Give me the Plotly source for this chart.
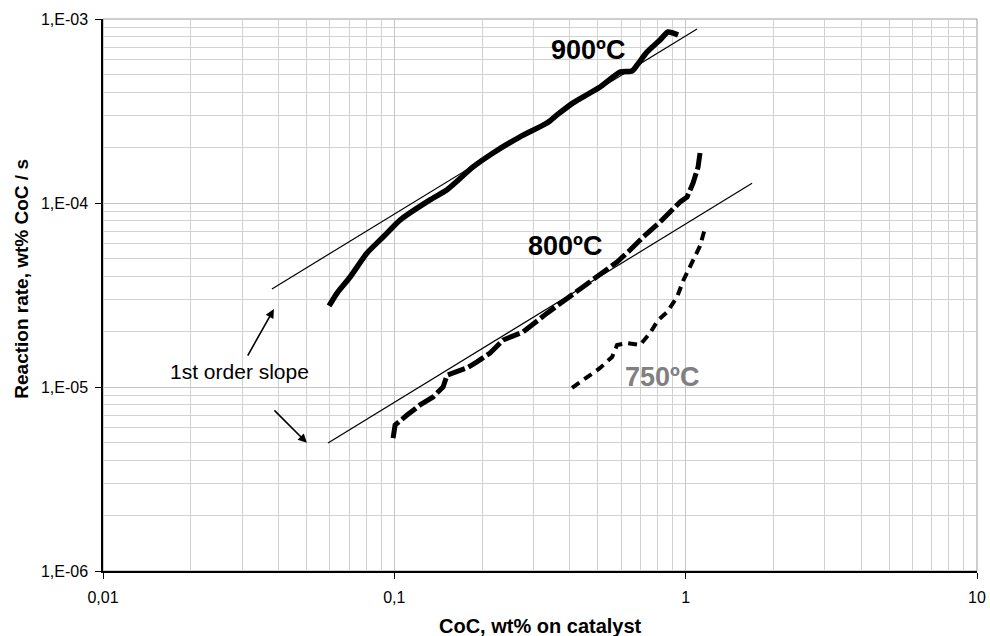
import math
import plotly.graph_objects as go

# ---- data ----
x900 = [0.0597, 0.0636, 0.0705, 0.0806, 0.0915, 0.1046, 0.1326, 0.1517, 0.1863, 0.2182,
        0.2701, 0.3343, 0.3618, 0.4107, 0.5084, 0.5953, 0.6546, 0.6812, 0.7373, 0.8167,
        0.8703, 0.9417]
y900 = [2.76e-5, 3.24e-5, 3.96e-5, 5.35e-5, 6.53e-5, 8.08e-5, 1.04e-4, 1.18e-4, 1.57e-4, 1.87e-4,
        2.29e-4, 2.72e-4, 3.01e-4, 3.50e-4, 4.27e-4, 5.15e-4, 5.22e-4, 5.62e-4, 6.62e-4, 7.69e-4,
        8.50e-4, 8.19e-4]

x800 = [0.0990, 0.1006, 0.1106, 0.1226, 0.1359, 0.1470, 0.1517, 0.1776, 0.1922, 0.2131,
        0.2361, 0.2766, 0.3343, 0.3948, 0.4810, 0.5813, 0.6443, 0.7141, 0.8167, 0.9568,
        1.011, 1.060, 1.103, 1.120]
y800 = [5.28e-6, 6.21e-6, 7.04e-6, 7.99e-6, 8.83e-6, 1.00e-5, 1.16e-5, 1.27e-5, 1.37e-5, 1.53e-5,
        1.80e-5, 1.99e-5, 2.52e-5, 3.05e-5, 3.82e-5, 4.78e-5, 5.55e-5, 6.53e-5, 7.88e-5, 1.013e-4,
        1.078e-4, 1.284e-4, 1.569e-4, 1.869e-4]

x750 = [0.4074, 0.4445, 0.5084, 0.5590, 0.5813, 0.6291, 0.6974, 0.7549, 0.8044, 0.8636,
        0.9343, 0.9797, 1.060, 1.120, 1.166]
y750 = [9.88e-6, 1.091e-5, 1.269e-5, 1.455e-5, 1.692e-5, 1.734e-5, 1.692e-5, 1.965e-5, 2.312e-5, 2.556e-5,
        3.084e-5, 3.768e-5, 4.90e-5, 5.84e-5, 7.31e-5]

fit_hi_x = [0.038, 1.094]
fit_hi_y = [3.41e-5, 8.83e-4]
fit_lo_x = [0.0592, 1.69]
fit_lo_y = [4.96e-6, 1.28e-4]

xtick_vals = [0.01, 0.1, 1, 10]
xtick_text = ["0,01", "0,1", "1", "10"]
ytick_vals = [1e-6, 1e-5, 1e-4, 1e-3]
ytick_text = ["1,E-06", "1,E-05", "1,E-04", "1,E-03"]

FONT = "Arial, 'Liberation Sans', sans-serif"
GRID = "#c4c4c4"
MINOR = "#d2d2d2"

fig = go.Figure()
fig.add_trace(go.Scatter(x=fit_hi_x, y=fit_hi_y, mode="lines",
                         line=dict(color="black", width=1.2), showlegend=False))
fig.add_trace(go.Scatter(x=fit_lo_x, y=fit_lo_y, mode="lines",
                         line=dict(color="black", width=1.2), showlegend=False))
fig.add_trace(go.Scatter(x=x900, y=y900, mode="lines",
                         line=dict(color="black", width=5.5, shape="spline", smoothing=0.6),
                         showlegend=False))
fig.add_trace(go.Scatter(x=x800, y=y800, mode="lines",
                         line=dict(color="black", width=5, dash="18px,4px"), showlegend=False))
fig.add_trace(go.Scatter(x=x750, y=y750, mode="lines",
                         line=dict(color="black", width=4, dash="9px,6px"), showlegend=False))

L = math.log10
annos = [
    dict(x=L(0.4626), y=-3.168, text="<b>900ºC</b>", font=dict(size=27, color="black")),
    dict(x=L(0.3855), y=-4.234, text="<b>800ºC</b>", font=dict(size=27, color="black")),
    dict(x=L(0.8299), y=-4.946, text="<b>750ºC</b>", font=dict(size=27, color="#808080")),
    dict(x=-1.533, y=-4.918, text="1st order slope", font=dict(size=21, color="black")),
]
for a in annos:
    a["font"]["family"] = FONT
    fig.add_annotation(xref="x", yref="y", showarrow=False, xanchor="center", yanchor="middle", **a)

# arrows
fig.add_annotation(xref="x", yref="y", x=L(0.0386), y=L(2.65e-5), ax=-27, ay=48, text="",
                   showarrow=True, arrowhead=2, arrowsize=1.1, arrowwidth=1.6, arrowcolor="black")
fig.add_annotation(xref="x", yref="y", x=L(0.0501), y=L(4.97e-6), ax=-34, ay=-34, text="",
                   showarrow=True, arrowhead=2, arrowsize=1.1, arrowwidth=1.6, arrowcolor="black")

# axis titles
fig.add_annotation(xref="paper", yref="paper", x=0.5, y=-0.0996, text="<b>CoC, wt% on catalyst</b>",
                   showarrow=False, xanchor="center", yanchor="middle",
                   font=dict(family=FONT, size=20, color="black"))
fig.add_annotation(xref="paper", yref="paper", x=-0.093, y=0.529, text="<b>Reaction rate, wt% CoC / s</b>",
                   showarrow=False, xanchor="center", yanchor="middle", textangle=-90,
                   font=dict(family=FONT, size=19, color="black"))

# top / right frame
fig.add_shape(type="rect", xref="paper", yref="paper", x0=0, y0=0, x1=1, y1=1,
              line=dict(color="#9a9a9a", width=1), layer="below")

fig.update_layout(
    width=990, height=636,
    margin=dict(l=103, r=13, t=19, b=65, autoexpand=False),
    paper_bgcolor="white", plot_bgcolor="white",
    font=dict(family=FONT, size=16, color="black"),
    xaxis=dict(type="log", range=[-2, 1], tickvals=xtick_vals, ticktext=xtick_text,
               automargin=False,
               showgrid=True, gridcolor=GRID, gridwidth=1,
               minor=dict(dtick="D1", showgrid=True, gridcolor=MINOR, gridwidth=1, ticks=""),
               ticks="outside", ticklen=6, tickcolor="black", tickwidth=1.2,
               showline=True, linecolor="black", linewidth=1.5, zeroline=False,
               tickfont=dict(size=16, color="black"), ticklabelstandoff=5),
    yaxis=dict(type="log", range=[-6, -3], tickvals=ytick_vals, ticktext=ytick_text,
               automargin=False,
               showgrid=True, gridcolor=GRID, gridwidth=1,
               minor=dict(dtick="D1", showgrid=True, gridcolor=MINOR, gridwidth=1, ticks=""),
               ticks="outside", ticklen=6, tickcolor="black", tickwidth=1.2,
               showline=True, linecolor="black", linewidth=1.5, zeroline=False,
               tickfont=dict(size=16, color="black"), ticklabelstandoff=4),
)

fig.write_html("out.html", config={"displayModeBar": False},
               post_script="document.body.style.margin='0';document.body.style.overflow='hidden';")
